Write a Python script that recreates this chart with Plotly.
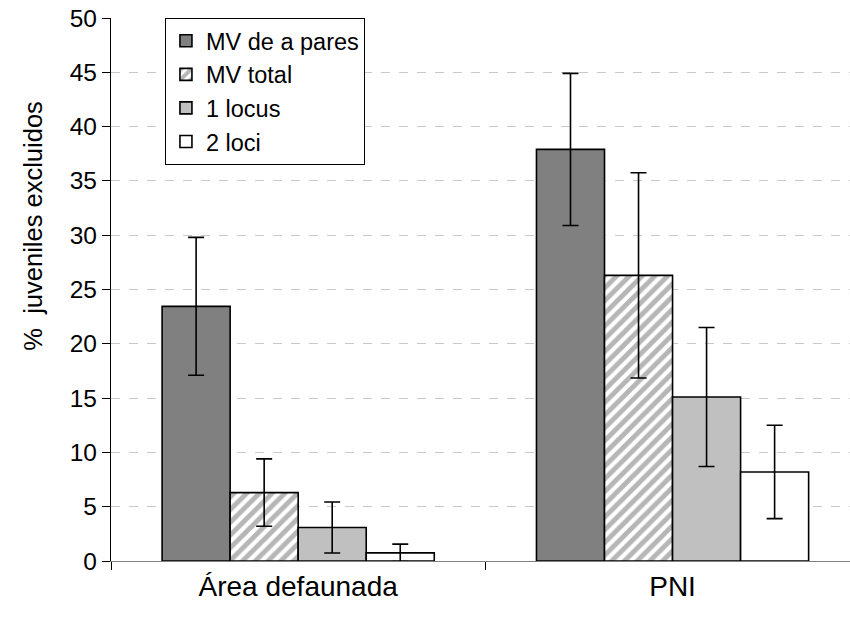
import plotly.graph_objects as go

# Categories and series values (% of juveniles excluded)
categories = ["Área defaunada", "PNI"]
series_names = ["MV de a pares", "MV total", "1 locus", "2 loci"]
mv_pares = [23.45, 37.9]
mv_pares_err = [6.35, 7.0]
mv_total = [6.3, 26.3]
mv_total_err = [3.1, 9.45]
locus_1 = [3.08, 15.1]
locus_1_err = [2.35, 6.4]
loci_2 = [0.75, 8.2]
loci_2_err = [0.8, 4.3]
y_ticks = [0, 5, 10, 15, 20, 25, 30, 35, 40, 45, 50]

FONT = "Liberation Sans, Arial, sans-serif"

values = [mv_pares, mv_total, locus_1, loci_2]
errors = [mv_pares_err, mv_total_err, locus_1_err, loci_2_err]
fills = ["#808080", "#ffffff", "#c0c0c0", "#ffffff"]
patterns = [None, dict(shape="/", fgcolor="#6e6e6e", bgcolor="#ffffff",
                       size=9, solidity=0.55), None, None]

fig = go.Figure()
for i, name in enumerate(series_names):
    marker = dict(color=fills[i], line=dict(color="#000000", width=1.6))
    if patterns[i] is not None:
        marker["pattern"] = patterns[i]
    fig.add_trace(go.Bar(
        x=categories,
        y=values[i],
        name=name,
        legendgroup=name,
        marker=marker,
        error_y=dict(type="data", array=errors[i], visible=True,
                     color="#000000", thickness=1.6, width=8),
    ))

fig.add_annotation(
    text="%  juveniles excluidos",
    textangle=-90,
    xref="paper", yref="paper",
    x=-0.106, y=0.617,
    xanchor="center", yanchor="middle",
    showarrow=False,
    font=dict(family=FONT, size=25.5, color="#000000"),
)

fig.update_layout(
    width=850, height=617,
    margin=dict(l=111, r=0, t=18, b=56),
    paper_bgcolor="#ffffff",
    plot_bgcolor="#ffffff",
    barmode="group",
    bargap=0.273,
    bargroupgap=0,
    font=dict(family=FONT, color="#000000"),
    legend=dict(
        x=0.073, y=1.0, xanchor="left", yanchor="top",
        bgcolor="#ffffff",
        bordercolor="#000000", borderwidth=1,
        font=dict(family=FONT, size=23.5, color="#000000"),
        tracegroupgap=0,
        itemwidth=30,
        itemclick=False,
    ),
    xaxis=dict(
        range=[-0.5, 1.474],
        showline=True, linecolor="#808080", linewidth=1,
        ticks="outside", tickson="boundaries", ticklen=8,
        tickcolor="#000000", tickwidth=1.2,
        tickfont=dict(family=FONT, size=28, color="#000000"),
        showgrid=False, zeroline=False,
        fixedrange=True,
    ),
    yaxis=dict(
        range=[0, 50],
        tickvals=y_ticks,
        showline=True, linecolor="#000000", linewidth=1.2,
        ticks="outside", ticklen=8, tickcolor="#000000", tickwidth=1.2,
        tickfont=dict(family=FONT, size=24.5, color="#000000"),
        showgrid=True, gridcolor="#c8c8c8", gridwidth=1, griddash="dash",
        zeroline=False,
        fixedrange=True,
    ),
)

fig.write_html("out.html")
